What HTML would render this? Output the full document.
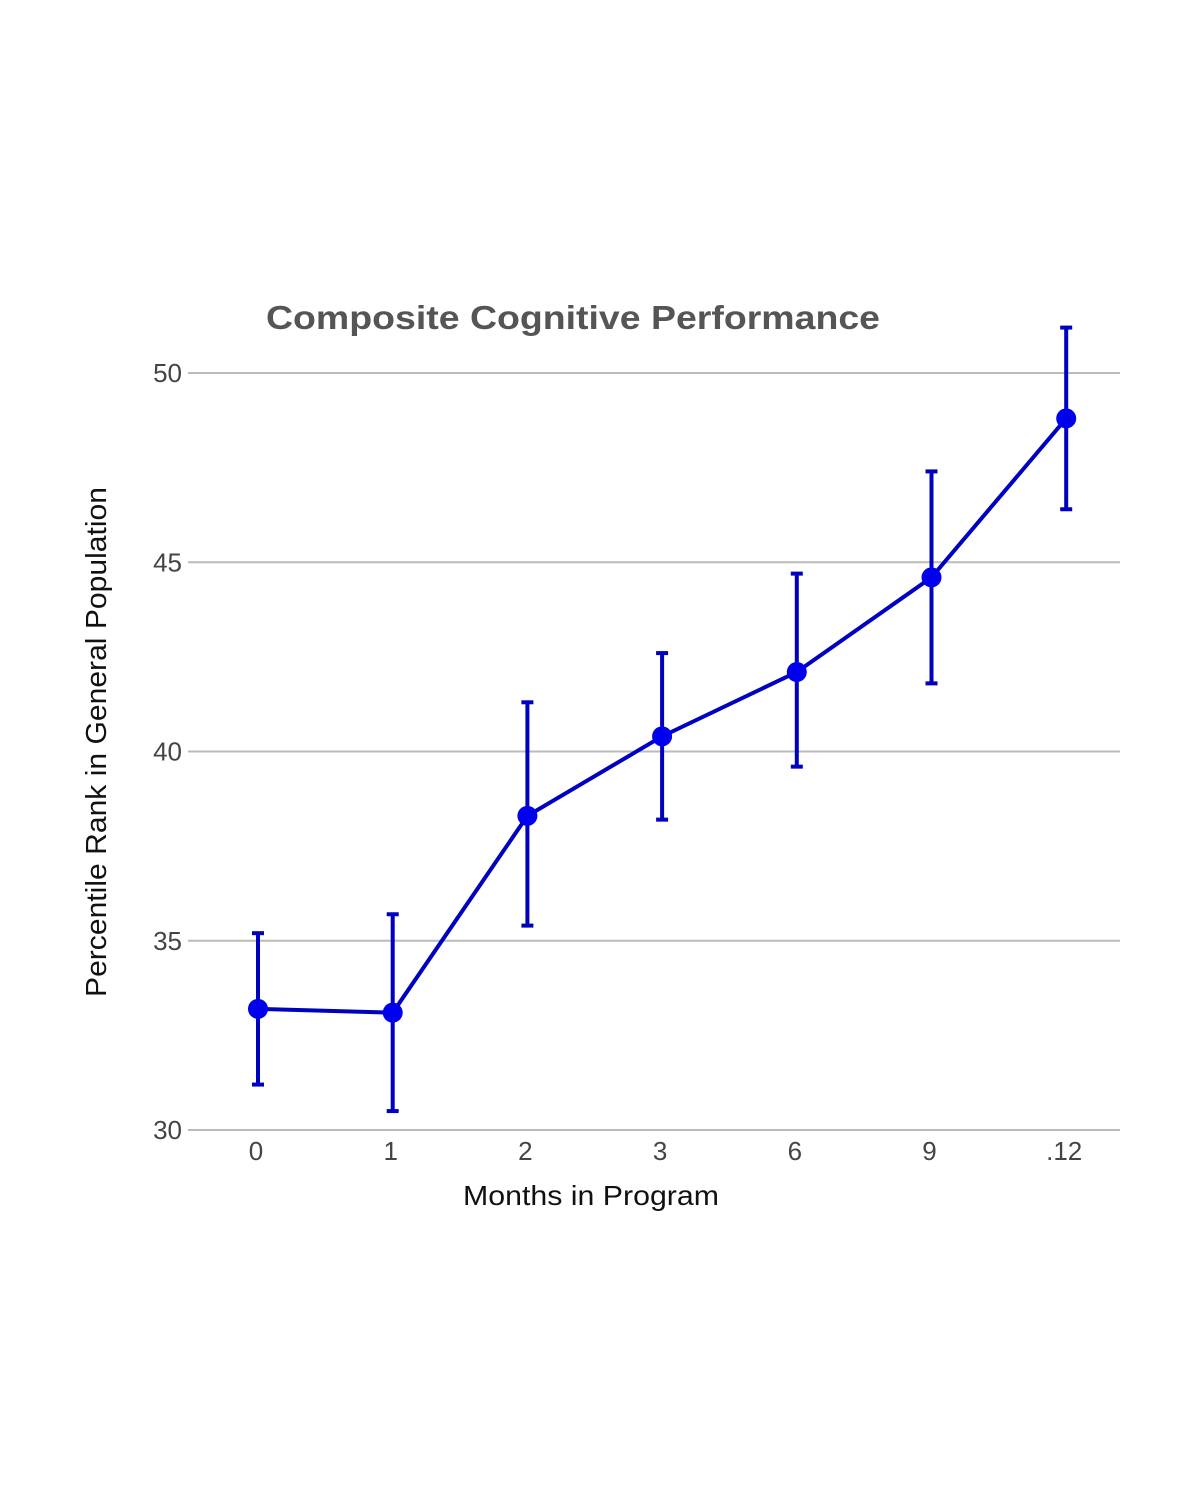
<!DOCTYPE html>
<html><head><meta charset="utf-8"><style>
html,body{margin:0;padding:0;background:#fff;}
svg{display:block;font-family:"Liberation Sans",Arial,sans-serif;}
</style></head><body>
<svg id="chart" width="1200" height="1500" viewBox="0 0 1200 1500">
<text x="266" y="329" font-size="33" font-weight="bold" fill="#555" textLength="614" lengthAdjust="spacingAndGlyphs">Composite Cognitive Performance</text>
<g id="grid"></g>
<g id="yticks"></g>
<g id="xticks"></g>
<text x="463" y="1205" font-size="28" fill="#111" textLength="256" lengthAdjust="spacingAndGlyphs">Months in Program</text>
<text transform="translate(106,997) rotate(-90)" font-size="29" fill="#111" textLength="510" lengthAdjust="spacingAndGlyphs">Percentile Rank in General Population</text>
<g id="series"></g>
</svg>
<script>
const categories=["0","1","2","3","6","9",".12"];
const values=[33.2,33.1,38.3,40.4,42.1,44.6,48.8];
const errUpper=[35.2,35.7,41.3,42.6,44.7,47.4,51.2];
const errLower=[31.2,30.5,35.4,38.2,39.6,41.8,46.4];
const yTicks=[30,35,40,45,50];
const NS="http://www.w3.org/2000/svg";
function y(v){return 1130-(v-30)*37.85;}
function x(i){return 258+i*134.7;}
function mk(tag,attrs,parent,text){const e=document.createElementNS(NS,tag);for(const k in attrs)e.setAttribute(k,attrs[k]);if(text!==undefined)e.textContent=text;parent.appendChild(e);return e;}
const grid=document.getElementById('grid'),yt=document.getElementById('yticks'),xt=document.getElementById('xticks'),s=document.getElementById('series');
yTicks.forEach(t=>{
 const l=mk('line',{x1:188,x2:1120,y1:y(t),y2:y(t),stroke:'#bbb','stroke-width':2},grid);
 
 
 const tx=mk('text',{x:182,y:y(t)+9,'text-anchor':'end','font-size':26,fill:'#444'},yt,String(t));
 
 
});
categories.forEach((c,i)=>{
 const tx=mk('text',{x:x(i)-2,y:1160,'text-anchor':'middle','font-size':26,fill:'#444'},xt,c);
 
 
});
const pl=mk('polyline',{points:values.map((v,i)=>x(i)+','+y(v)).join(' '),fill:'none',stroke:'#0000c0','stroke-width':4},s);


values.forEach((v,i)=>{
 const g=mk('g',{},s);
 
 
 mk('line',{x1:x(i),x2:x(i),y1:y(errUpper[i]),y2:y(errLower[i]),stroke:'#0000c0','stroke-width':4},g);
 mk('line',{x1:x(i)-6,x2:x(i)+6,y1:y(errUpper[i]),y2:y(errUpper[i]),stroke:'#0000c0','stroke-width':4},g);
 mk('line',{x1:x(i)-6,x2:x(i)+6,y1:y(errLower[i]),y2:y(errLower[i]),stroke:'#0000c0','stroke-width':4},g);
 const c=mk('circle',{cx:x(i),cy:y(v),r:10,fill:'#0000ee'},s);
 
 
});
</script>
</body></html>
